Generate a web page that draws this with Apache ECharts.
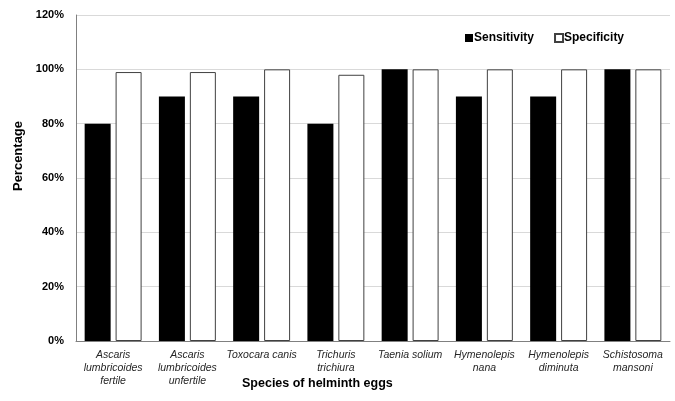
<!DOCTYPE html>
<html><head><meta charset="utf-8">
<script src="https://cdn.jsdelivr.net/npm/echarts@6/dist/echarts.min.js"></script>
<style>html,body{margin:0;padding:0;background:#fff}#c{width:675px;height:401px}</style>
</head><body><div id="c"></div>
<script>
const categories = ["Ascaris\nlumbricoides\nfertile","Ascaris\nlumbricoides\nunfertile","Toxocara canis","Trichuris\ntrichiura","Taenia solium","Hymenolepis\nnana","Hymenolepis\ndiminuta","Schistosoma\nmansoni"];
const sensitivity = [80,90,90,80,100,90,90,100];
const specificity = [99,99,100,98,100,100,100,100];
const yTicks = [0,20,40,60,80,100,120];
const FONT = '"Liberation Sans", Arial, sans-serif';
const chart = echarts.init(document.getElementById('c'));
chart.setOption({
  animation:false,
  grid:{left:76,right:5,top:15,bottom:60},
  legend:{top:27,left:460,itemWidth:8,itemHeight:8,itemGap:20,
    textStyle:{fontFamily:FONT,fontWeight:'bold',fontSize:12,color:'#000',padding:[0,0,0,-4]},
    data:[{name:'Sensitivity',icon:'rect'},{name:'Specificity',icon:'rect'}]},
  graphic:[
    {type:'text',left:242,top:377,style:{text:'Species of helminth eggs',font:'bold 12.5px "Liberation Sans", Arial, sans-serif',fill:'#000'}},
    {type:'text',x:18,y:156,rotation:Math.PI/2,style:{text:'Percentage',font:'bold 13px "Liberation Sans", Arial, sans-serif',fill:'#000',align:'center',verticalAlign:'middle'}}
  ],
  xAxis:{type:'category',data:categories,
    axisLine:{lineStyle:{color:'#808080',width:1}},
    axisTick:{show:false},
    axisLabel:{interval:0,fontFamily:FONT,fontStyle:'italic',fontSize:10.5,color:'#262626',lineHeight:13,margin:8}},
  yAxis:{type:'value',min:0,max:120,interval:20,
    axisLine:{show:true,lineStyle:{color:'#808080',width:1}},
    axisTick:{show:false},
    splitLine:{lineStyle:{color:'#d9d9d9',width:1}},
    axisLabel:{fontFamily:FONT,fontWeight:'bold',fontSize:11,color:'#000',margin:12,
      formatter:v=>yTicks.includes(v)?v+'%':''}},
  series:[
    {name:'Sensitivity',type:'bar',data:sensitivity,barWidth:26,barGap:'19%',
      itemStyle:{color:'#000',borderColor:'#000',borderWidth:0}},
    {name:'Specificity',type:'bar',data:specificity,barWidth:26,
      itemStyle:{color:'#fff',borderColor:'#404040',borderWidth:1}}
  ]
});
</script></body></html>
